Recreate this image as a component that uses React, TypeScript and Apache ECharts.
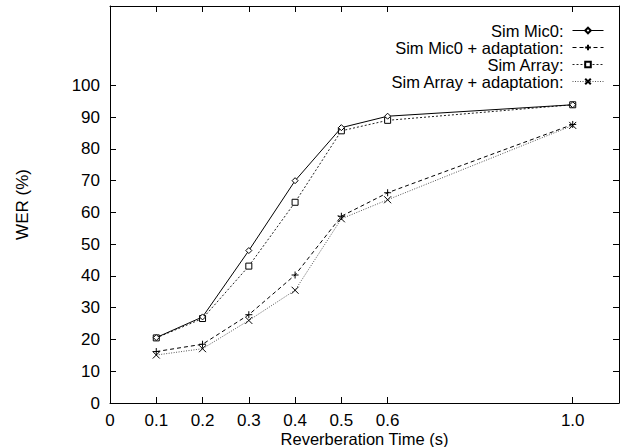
import React, { useEffect, useRef } from "react";
import * as echarts from "echarts";

const reverbTimes = [0.1, 0.2, 0.3, 0.4, 0.5, 0.6, 1.0];
const simMic0 = [20.6, 27.1, 48.0, 70.0, 86.7, 90.3, 93.9];
const simMic0Adapt = [16.2, 18.5, 27.8, 40.3, 58.8, 66.2, 87.7];
const simArray = [20.5, 26.6, 43.1, 63.2, 85.7, 89.0, 93.9];
const simArrayAdapt = [15.1, 17.1, 26.0, 35.5, 58.0, 64.0, 87.4];

const xTicks = [0, 0.1, 0.2, 0.3, 0.4, 0.5, 0.6, 1.0];
const yTicks = [0, 10, 20, 30, 40, 50, 60, 70, 80, 90, 100];

const FONT = "Liberation Sans";
const FS = 17;
const LFS = 16.5;

const pairs = (ys: number[]) => reverbTimes.map((x, i) => [x, ys[i]]);

export default function App() {
  const ref = useRef<HTMLDivElement>(null);
  useEffect(() => {
    if (!ref.current) return;
    const chart = echarts.init(ref.current, null, { renderer: "svg" });
    const axisLine = { show: true, onZero: false, lineStyle: { color: "#000", width: 1 } };
    const tick = { show: true, inside: true, length: 6, lineStyle: { color: "#000", width: 1 } };
    const hollow = { color: "#fff", borderColor: "#000", borderWidth: 1 };
    const solidMark = { color: "#000", borderColor: "#000", borderWidth: 1 };
    chart.setOption({
      animation: false,
      backgroundColor: "#fff",
      textStyle: { fontFamily: FONT },
      grid: { left: 110, right: 12, top: 6, bottom: 44, containLabel: false, outerBoundsMode: "none" },
      legend: {
        orient: "vertical",
        right: 22,
        top: 17,
        align: "right",
        itemWidth: 31,
        itemHeight: 7,
        itemGap: 0,
        selectedMode: false,
        lineStyle: { width: 1 },
        formatter: (name: string) => `{a|${name}}`,
        textStyle: {
          fontFamily: FONT,
          fontSize: LFS,
          color: "#000",
          rich: { a: { width: 192, align: "right", fontSize: LFS, fontFamily: FONT, lineHeight: 16, padding: [0, 4, 0, 0] } },
        },
        data: ["Sim Mic0:", "Sim Mic0 + adaptation:", "Sim Array:", "Sim Array + adaptation:"],
      },
      xAxis: [
        {
          type: "value",
          min: 0,
          max: 1.1,
          position: "bottom",
          name: "Reverberation Time (s)",
          nameLocation: "middle",
          nameGap: 28,
          nameMoveOverlap: false,
          nameTextStyle: { fontFamily: FONT, fontSize: 16.5, color: "#000", lineHeight: 15 },
          axisLine,
          axisTick: { ...tick, customValues: xTicks },
          axisLabel: {
            customValues: xTicks,
            margin: 9.5,
            lineHeight: 15,
            fontFamily: FONT,
            fontSize: FS,
            color: "#000",
            formatter: (v: number) => (v === 0 ? "0" : v.toFixed(1)),
          },
          splitLine: { show: false },
        },
        {
          type: "value",
          min: 0,
          max: 1.1,
          position: "top",
          axisLine,
          axisTick: { ...tick, customValues: xTicks },
          axisLabel: { show: false },
          splitLine: { show: false },
        },
      ],
      yAxis: [
        {
          type: "value",
          min: 0,
          max: 125,
          position: "left",
          name: "WER (%)",
          nameLocation: "middle",
          nameGap: 79,
          nameRotate: 90,
          nameMoveOverlap: false,
          nameTextStyle: { fontFamily: FONT, fontSize: FS, color: "#000" },
          axisLine,
          axisTick: { ...tick, customValues: yTicks },
          axisLabel: { customValues: yTicks, margin: 10, fontFamily: FONT, fontSize: FS, color: "#000" },
          splitLine: { show: false },
        },
        {
          type: "value",
          min: 0,
          max: 125,
          position: "right",
          axisLine,
          axisTick: { ...tick, customValues: yTicks },
          axisLabel: { show: false },
          splitLine: { show: false },
        },
      ],
      series: [
        {
          name: "Sim Mic0:",
          type: "line",
          data: pairs(simMic0),
          symbol: "diamond",
          symbolSize: 6,
          itemStyle: hollow,
          lineStyle: { color: "#000", width: 1, type: "solid" },
          z: 4,
        },
        {
          name: "Sim Mic0 + adaptation:",
          type: "line",
          data: pairs(simMic0Adapt),
          symbol: "path://M5,0L5,10M0,5L10,5",
          symbolSize: 7,
          itemStyle: solidMark,
          lineStyle: { color: "#000", width: 1, type: [4, 3] },
          z: 3,
        },
        {
          name: "Sim Array:",
          type: "line",
          data: pairs(simArray),
          symbol: "rect",
          symbolSize: 6,
          itemStyle: hollow,
          lineStyle: { color: "#222", width: 1, type: [2, 2] },
          z: 3,
        },
        {
          name: "Sim Array + adaptation:",
          type: "line",
          data: pairs(simArrayAdapt),
          symbol: "path://M0,0L10,10M0,10L10,0",
          symbolSize: 7,
          itemStyle: solidMark,
          lineStyle: { color: "#555", width: 1, type: [1, 1.5] },
          z: 2,
        },
      ],
    });
    return () => chart.dispose();
  }, []);
  return <div ref={ref} style={{ position: "fixed", left: 0, top: 0, width: 631, height: 447 }} />;
}
